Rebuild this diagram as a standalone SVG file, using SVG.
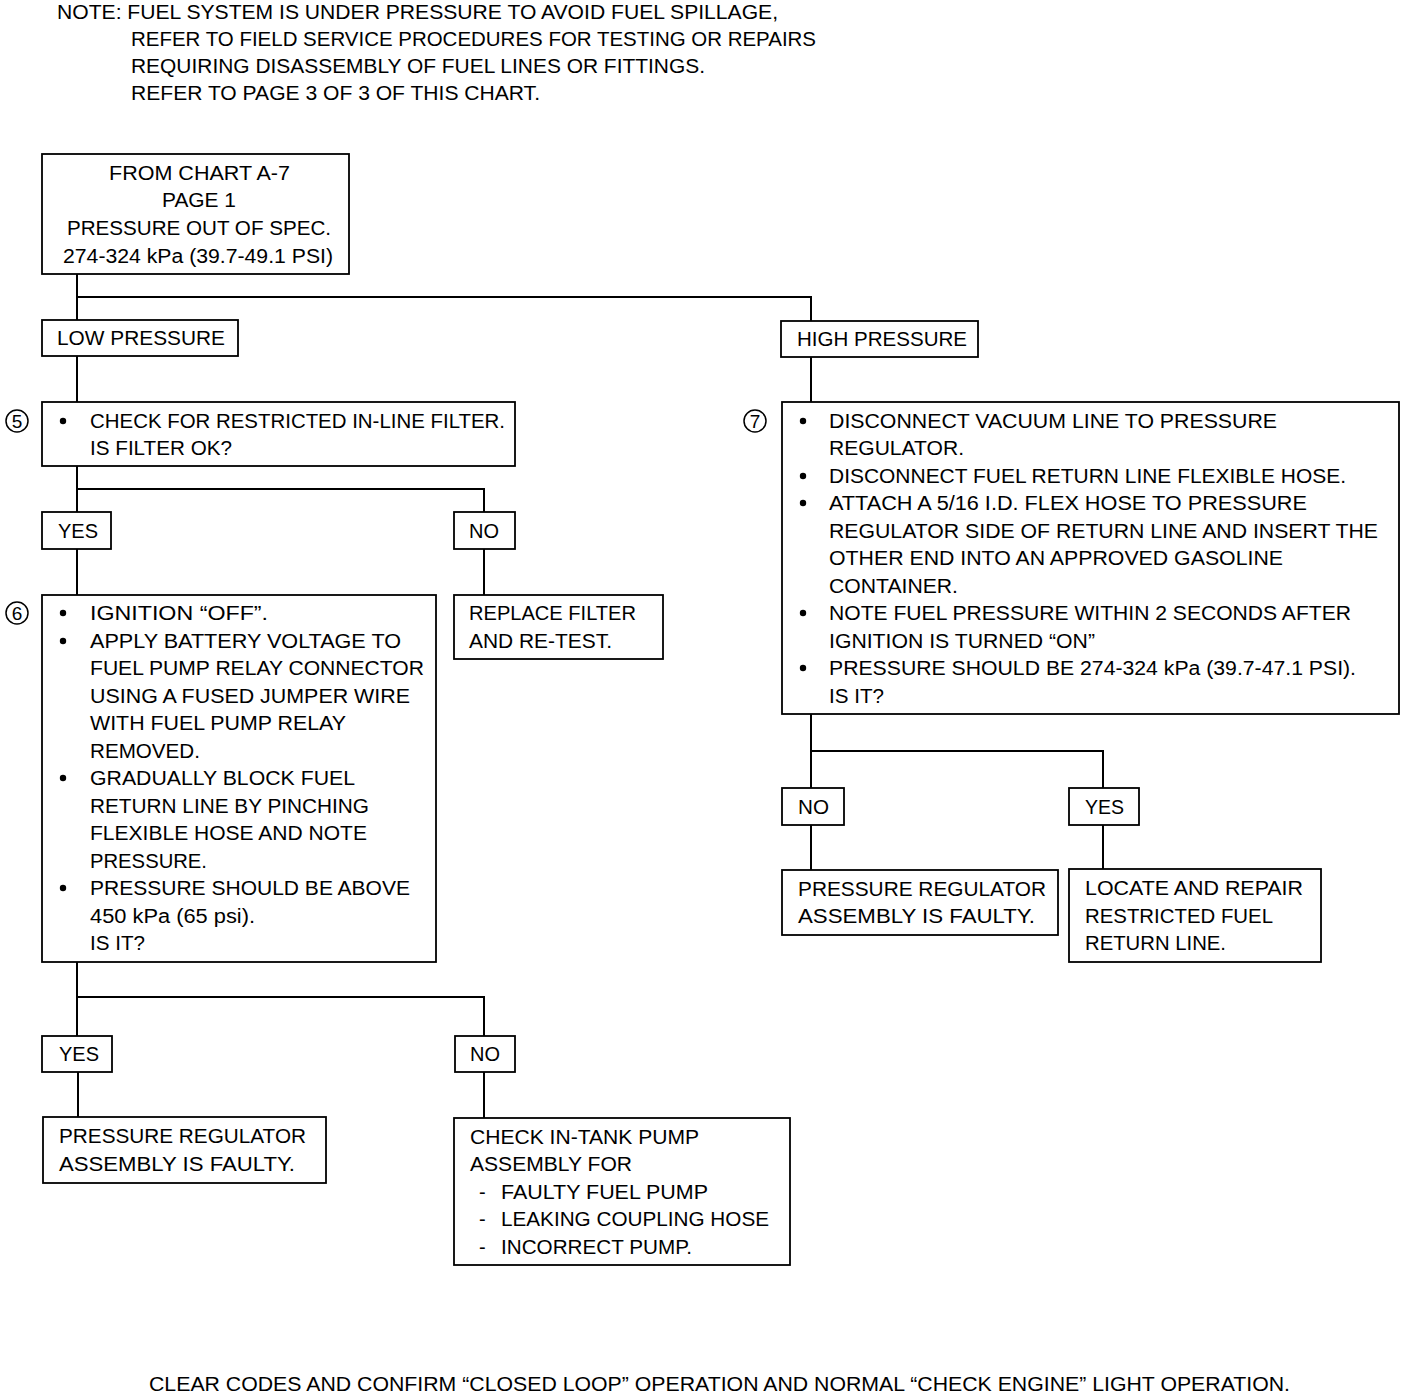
<svg xmlns="http://www.w3.org/2000/svg" width="1408" height="1394" viewBox="0 0 1408 1394">
<style>
text{font-family:"Liberation Sans",Arial,sans-serif;font-size:20px;fill:#000}
.c{text-anchor:middle}
.box{fill:#fff;stroke:#000;stroke-width:1.8}
.ln{fill:none;stroke:#000;stroke-width:2}
.num{fill:#fff;stroke:#000;stroke-width:1.5}
.n{font-size:19px;text-anchor:middle}
</style>
<rect width="1408" height="1394" fill="#fff"/>
<g id="note">
<text x="57" y="19" textLength="721" lengthAdjust="spacingAndGlyphs">NOTE: FUEL SYSTEM IS UNDER PRESSURE TO AVOID FUEL SPILLAGE,</text>
<text x="131" y="46" textLength="685" lengthAdjust="spacingAndGlyphs">REFER TO FIELD SERVICE PROCEDURES FOR TESTING OR REPAIRS</text>
<text x="131" y="73" textLength="574" lengthAdjust="spacingAndGlyphs">REQUIRING DISASSEMBLY OF FUEL LINES OR FITTINGS.</text>
<text x="131" y="100" textLength="409" lengthAdjust="spacingAndGlyphs">REFER TO PAGE 3 OF 3 OF THIS CHART.</text>
</g>
<g id="connectors">
<path class="ln" d="M77 274V320M77 297H811V321"/>
<path class="ln" d="M77 356V402"/>
<path class="ln" d="M811 357V402"/>
<path class="ln" d="M77 466V512M77 489H484V512"/>
<path class="ln" d="M77 549V595M484 549V595"/>
<path class="ln" d="M77 962V1036M77 997H484V1036"/>
<path class="ln" d="M78 1072V1117M484 1072V1118"/>
<path class="ln" d="M811 714V788M811 751H1103V788"/>
<path class="ln" d="M811 825V870M1103 825V869"/>
</g>
<g id="start">
<rect class="box" x="42" y="154" width="307" height="120"/>
<text x="199.5" y="180" class="c" textLength="181" lengthAdjust="spacingAndGlyphs">FROM CHART A-7</text>
<text x="199" y="207" class="c" textLength="74" lengthAdjust="spacingAndGlyphs">PAGE 1</text>
<text x="199" y="235" class="c" textLength="264" lengthAdjust="spacingAndGlyphs">PRESSURE OUT OF SPEC.</text>
<text x="198" y="263" class="c" textLength="270" lengthAdjust="spacingAndGlyphs">274-324 kPa (39.7-49.1 PSI)</text>
</g>
<g id="low">
<rect class="box" x="42" y="320" width="196" height="36"/>
<text x="57" y="345" textLength="168" lengthAdjust="spacingAndGlyphs">LOW PRESSURE</text>
</g>
<g id="high">
<rect class="box" x="781" y="321" width="197" height="36"/>
<text x="797" y="346" textLength="170" lengthAdjust="spacingAndGlyphs">HIGH PRESSURE</text>
</g>
<g id="step5">
<circle class="num" cx="17" cy="421" r="11"/>
<text x="17" y="428" class="n">5</text>
<rect class="box" x="42" y="402" width="473" height="64"/>
<circle cx="63" cy="421" r="3.2"/>
<text x="90" y="428" textLength="415" lengthAdjust="spacingAndGlyphs">CHECK FOR RESTRICTED IN-LINE FILTER.</text>
<text x="90" y="455" textLength="142" lengthAdjust="spacingAndGlyphs">IS FILTER OK?</text>
</g>
<g id="yes1">
<rect class="box" x="42" y="512" width="69" height="37"/>
<text x="58" y="538" textLength="40" lengthAdjust="spacingAndGlyphs">YES</text>
</g>
<g id="no1">
<rect class="box" x="454" y="512" width="61" height="37"/>
<text x="469" y="538" textLength="30" lengthAdjust="spacingAndGlyphs">NO</text>
</g>
<g id="replace">
<rect class="box" x="454" y="595" width="209" height="64"/>
<text x="469" y="620" textLength="167" lengthAdjust="spacingAndGlyphs">REPLACE FILTER</text>
<text x="469" y="648" textLength="143" lengthAdjust="spacingAndGlyphs">AND RE-TEST.</text>
</g>
<g id="step6">
<circle class="num" cx="17" cy="613" r="11"/>
<text x="17" y="620" class="n">6</text>
<rect class="box" x="42" y="595" width="394" height="367"/>
<circle cx="63" cy="613" r="3.2"/>
<circle cx="63" cy="641" r="3.2"/>
<circle cx="63" cy="778" r="3.2"/>
<circle cx="63" cy="888" r="3.2"/>
<text x="90" y="620" textLength="178" lengthAdjust="spacingAndGlyphs">IGNITION “OFF”.</text>
<text x="90" y="648" textLength="311" lengthAdjust="spacingAndGlyphs">APPLY BATTERY VOLTAGE TO</text>
<text x="90" y="675" textLength="334" lengthAdjust="spacingAndGlyphs">FUEL PUMP RELAY CONNECTOR</text>
<text x="90" y="703" textLength="320" lengthAdjust="spacingAndGlyphs">USING A FUSED JUMPER WIRE</text>
<text x="90" y="730" textLength="256" lengthAdjust="spacingAndGlyphs">WITH FUEL PUMP RELAY</text>
<text x="90" y="758" textLength="110" lengthAdjust="spacingAndGlyphs">REMOVED.</text>
<text x="90" y="785" textLength="265" lengthAdjust="spacingAndGlyphs">GRADUALLY BLOCK FUEL</text>
<text x="90" y="813" textLength="279" lengthAdjust="spacingAndGlyphs">RETURN LINE BY PINCHING</text>
<text x="90" y="840" textLength="277" lengthAdjust="spacingAndGlyphs">FLEXIBLE HOSE AND NOTE</text>
<text x="90" y="868" textLength="117" lengthAdjust="spacingAndGlyphs">PRESSURE.</text>
<text x="90" y="895" textLength="320" lengthAdjust="spacingAndGlyphs">PRESSURE SHOULD BE ABOVE</text>
<text x="90" y="923" textLength="165" lengthAdjust="spacingAndGlyphs">450 kPa (65 psi).</text>
<text x="90" y="950" textLength="55" lengthAdjust="spacingAndGlyphs">IS IT?</text>
</g>
<g id="yes2">
<rect class="box" x="42" y="1036" width="70" height="36"/>
<text x="59" y="1061" textLength="40" lengthAdjust="spacingAndGlyphs">YES</text>
</g>
<g id="no2">
<rect class="box" x="455" y="1036" width="60" height="36"/>
<text x="470" y="1061" textLength="30" lengthAdjust="spacingAndGlyphs">NO</text>
</g>
<g id="regfaulty1">
<rect class="box" x="43" y="1117" width="283" height="66"/>
<text x="59" y="1143" textLength="247" lengthAdjust="spacingAndGlyphs">PRESSURE REGULATOR</text>
<text x="59" y="1171" textLength="236" lengthAdjust="spacingAndGlyphs">ASSEMBLY IS FAULTY.</text>
</g>
<g id="intank">
<rect class="box" x="454" y="1118" width="336" height="147"/>
<text x="470" y="1144" textLength="229" lengthAdjust="spacingAndGlyphs">CHECK IN-TANK PUMP</text>
<text x="470" y="1171" textLength="162" lengthAdjust="spacingAndGlyphs">ASSEMBLY FOR</text>
<text x="479" y="1199">-</text>
<text x="501" y="1199" textLength="207" lengthAdjust="spacingAndGlyphs">FAULTY FUEL PUMP</text>
<text x="479" y="1226">-</text>
<text x="501" y="1226" textLength="268" lengthAdjust="spacingAndGlyphs">LEAKING COUPLING HOSE</text>
<text x="479" y="1254">-</text>
<text x="501" y="1254" textLength="191" lengthAdjust="spacingAndGlyphs">INCORRECT PUMP.</text>
</g>
<g id="step7">
<circle class="num" cx="755" cy="421" r="11"/>
<text x="755" y="428" class="n">7</text>
<rect class="box" x="782" y="402" width="617" height="312"/>
<circle cx="803" cy="421" r="3.2"/>
<circle cx="803" cy="476" r="3.2"/>
<circle cx="803" cy="503" r="3.2"/>
<circle cx="803" cy="613" r="3.2"/>
<circle cx="803" cy="668" r="3.2"/>
<text x="829" y="428" textLength="448" lengthAdjust="spacingAndGlyphs">DISCONNECT VACUUM LINE TO PRESSURE</text>
<text x="829" y="455" textLength="135" lengthAdjust="spacingAndGlyphs">REGULATOR.</text>
<text x="829" y="483" textLength="517" lengthAdjust="spacingAndGlyphs">DISCONNECT FUEL RETURN LINE FLEXIBLE HOSE.</text>
<text x="829" y="510" textLength="478" lengthAdjust="spacingAndGlyphs">ATTACH A 5/16 I.D. FLEX HOSE TO PRESSURE</text>
<text x="829" y="538" textLength="549" lengthAdjust="spacingAndGlyphs">REGULATOR SIDE OF RETURN LINE AND INSERT THE</text>
<text x="829" y="565" textLength="454" lengthAdjust="spacingAndGlyphs">OTHER END INTO AN APPROVED GASOLINE</text>
<text x="829" y="593" textLength="129" lengthAdjust="spacingAndGlyphs">CONTAINER.</text>
<text x="829" y="620" textLength="522" lengthAdjust="spacingAndGlyphs">NOTE FUEL PRESSURE WITHIN 2 SECONDS AFTER</text>
<text x="829" y="648" textLength="266" lengthAdjust="spacingAndGlyphs">IGNITION IS TURNED “ON”</text>
<text x="829" y="675" textLength="527" lengthAdjust="spacingAndGlyphs">PRESSURE SHOULD BE 274-324 kPa (39.7-47.1 PSI).</text>
<text x="829" y="703" textLength="55" lengthAdjust="spacingAndGlyphs">IS IT?</text>
</g>
<g id="no3">
<rect class="box" x="782" y="788" width="62" height="37"/>
<text x="798" y="814" textLength="31" lengthAdjust="spacingAndGlyphs">NO</text>
</g>
<g id="yes3">
<rect class="box" x="1069" y="788" width="70" height="37"/>
<text x="1085" y="814" textLength="39" lengthAdjust="spacingAndGlyphs">YES</text>
</g>
<g id="regfaulty2">
<rect class="box" x="782" y="870" width="276" height="65"/>
<text x="798" y="896" textLength="248" lengthAdjust="spacingAndGlyphs">PRESSURE REGULATOR</text>
<text x="798" y="923" textLength="237" lengthAdjust="spacingAndGlyphs">ASSEMBLY IS FAULTY.</text>
</g>
<g id="locate">
<rect class="box" x="1069" y="869" width="252" height="93"/>
<text x="1085" y="895" textLength="218" lengthAdjust="spacingAndGlyphs">LOCATE AND REPAIR</text>
<text x="1085" y="923" textLength="188" lengthAdjust="spacingAndGlyphs">RESTRICTED FUEL</text>
<text x="1085" y="950" textLength="141" lengthAdjust="spacingAndGlyphs">RETURN LINE.</text>
</g>
<g id="footer">
<text x="149" y="1391" textLength="1141" lengthAdjust="spacingAndGlyphs">CLEAR CODES AND CONFIRM “CLOSED LOOP” OPERATION AND NORMAL “CHECK ENGINE” LIGHT OPERATION.</text>
</g>
</svg>
